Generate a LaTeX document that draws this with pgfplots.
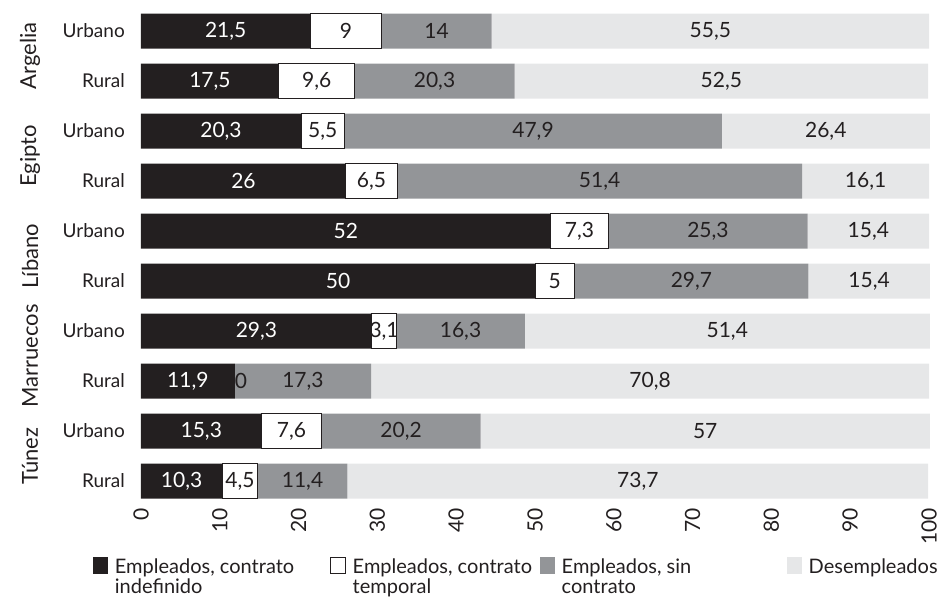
\documentclass[border=0pt]{standalone}
\usepackage{pgfplots}
\usepackage{pgfplotstable}
\pgfplotsset{compat=1.18}
\usepackage{fontspec}
\setmainfont{Lato}
\definecolor{c1}{HTML}{231F20}
\definecolor{c3}{HTML}{939598}
\definecolor{c4}{HTML}{E6E7E8}
\pgfplotstableread{
y a b c d
0 21.5 9 14 55.5
1 17.5 9.6 20.3 52.5
2 20.3 5.5 47.9 26.4
3 26 6.5 51.4 16.1
4 52 7.3 25.3 15.4
5 50 5 29.7 15.4
6 29.3 3.1 16.3 51.4
7 11.9 0 17.3 70.8
8 15.3 7.6 20.2 57
9 10.3 4.5 11.4 73.7
}\datatable
% label centres of each segment
\pgfplotstableread{
y a xa b xb c xc d xd
0 21.5 10.75 9 26 14 37.5 55.5 72.25
1 17.5 8.75 9.6 22.3 20.3 37.25 52.5 73.65
2 20.3 10.15 5.5 23.05 47.9 49.75 26.4 86.9
3 26 13 6.5 29.25 51.4 58.2 16.1 91.95
4 52 26 7.3 55.65 25.3 71.95 15.4 92.3
5 50 25 5 52.5 29.7 69.85 15.4 92.4
6 29.3 14.65 3.1 30.85 16.3 40.55 51.4 74.4
7 11.9 5.95 0 12.7 17.3 20.55 70.8 64.6
8 15.3 7.65 7.6 19.1 20.2 33 57 71.6
9 10.3 5.15 4.5 12.55 11.4 20.5 73.7 63.05
}\labeltable
\newcommand\lgfont{\fontsize{20bp}{20bp}\selectfont}
\newcommand\ctfont{\fontsize{22bp}{22bp}\selectfont}
\begin{document}
\fontsize{19bp}{19bp}\selectfont
\begin{tikzpicture}
\path[use as bounding box] (-141bp,-91bp) rectangle (806bp,506bp);
\begin{axis}[
  at={(0,0)}, anchor=south west,
  scale only axis, width=788bp, height=500bp,
  xbar stacked, bar width=35bp,
  xmin=0, xmax=100, ymin=-0.5, ymax=9.5, y dir=reverse,
  axis line style={draw=none},
  major tick length=0pt,
  xtick={0,10,...,100},
  ytick={0,...,9},
  yticklabels={Urbano,Rural,Urbano,Rural,Urbano,Rural,Urbano,Rural,Urbano,Rural},
  /pgf/number format/assume math mode=true,
  tick label style={font=\fontsize{19bp}{19bp}\selectfont, text=c1},
  xticklabel style={rotate=90, anchor=east, inner sep=0pt, font=\fontsize{21bp}{21bp}\selectfont},
  xticklabel shift=2bp,
  yticklabel style={anchor=east, inner sep=0pt},
  yticklabel shift=16bp,
  clip=false,
  legend columns=4,
  legend style={draw=none, fill=none, inner sep=0pt, outer sep=0pt,
    at={(axis description cs:-0.061,-0.102)}, anchor=north west,
    nodes={inner sep=0pt, text=c1, font=\lgfont},
    /tikz/column sep=0pt},
  legend cell align=left,
  legend image code/.code={\fill[#1] (0bp,-6bp) rectangle (15bp,11bp); \path (0,0) -- (22bp,0);},
]
\addplot[fill=c1, draw=none] table[x=a, y=y] {\datatable};
\addlegendentry{\parbox[t]{215bp}{\mbox{Empleados, contrato}\\indefinido}}
\addplot[fill=white, draw=c1, line width=0.8bp, legend image code/.code={\draw[fill=white, draw=c1, line width=0.8bp] (0.4bp,-5.6bp) rectangle (14.6bp,10.6bp); \path (0,0) -- (22bp,0);}] table[x=b, y=y] {\datatable};
\addlegendentry{\parbox[t]{187bp}{\mbox{Empleados, contrato}\\temporal}}
\addplot[fill=c3, draw=none] table[x=c, y=y] {\datatable};
\addlegendentry{\parbox[t]{225bp}{\mbox{Empleados, sin}\\contrato}}
\addplot[fill=c4, draw=none] table[x=d, y=y] {\datatable};
\addlegendentry{\parbox[t]{130bp}{Desempleados}}
\node[rotate=90, anchor=center, inner sep=0pt, text=c1, font=\ctfont] at ([xshift=-111bp]axis cs:0,0.5) {Argelia};
\node[rotate=90, anchor=center, inner sep=0pt, text=c1, font=\ctfont] at ([xshift=-111bp]axis cs:0,2.5) {Egipto};
\node[rotate=90, anchor=center, inner sep=0pt, text=c1, font=\ctfont] at ([xshift=-111bp]axis cs:0,4.5) {Líbano};
\node[rotate=90, anchor=center, inner sep=0pt, text=c1, font=\ctfont] at ([xshift=-111bp]axis cs:0,6.5) {Marruecos};
\node[rotate=90, anchor=center, inner sep=0pt, text=c1, font=\ctfont] at ([xshift=-111bp]axis cs:0,8.5) {Túnez};
\end{axis}
\begin{axis}[
  at={(0,0)}, anchor=south west,
  scale only axis, width=788bp, height=500bp,
  xmin=0, xmax=100, ymin=-0.5, ymax=9.5, y dir=reverse,
  hide axis, clip=false,
  point meta=explicit,
  nodes near coords,
  /pgf/number format/use comma,
  /pgf/number format/assume math mode=true,
  nodes near coords style={anchor=center, inner sep=0pt, font=\fontsize{21bp}{21bp}\selectfont},
]
\addplot[only marks, mark=none, nodes near coords style={text=white}] table[x=xa, y=y, meta=a] {\labeltable};
\addplot[only marks, mark=none, nodes near coords style={text=c1}] table[x=xb, y=y, meta=b] {\labeltable};
\addplot[only marks, mark=none, nodes near coords style={text=c1}] table[x=xc, y=y, meta=c] {\labeltable};
\addplot[only marks, mark=none, nodes near coords style={text=c1}] table[x=xd, y=y, meta=d] {\labeltable};
\end{axis}
\end{tikzpicture}
\end{document}
